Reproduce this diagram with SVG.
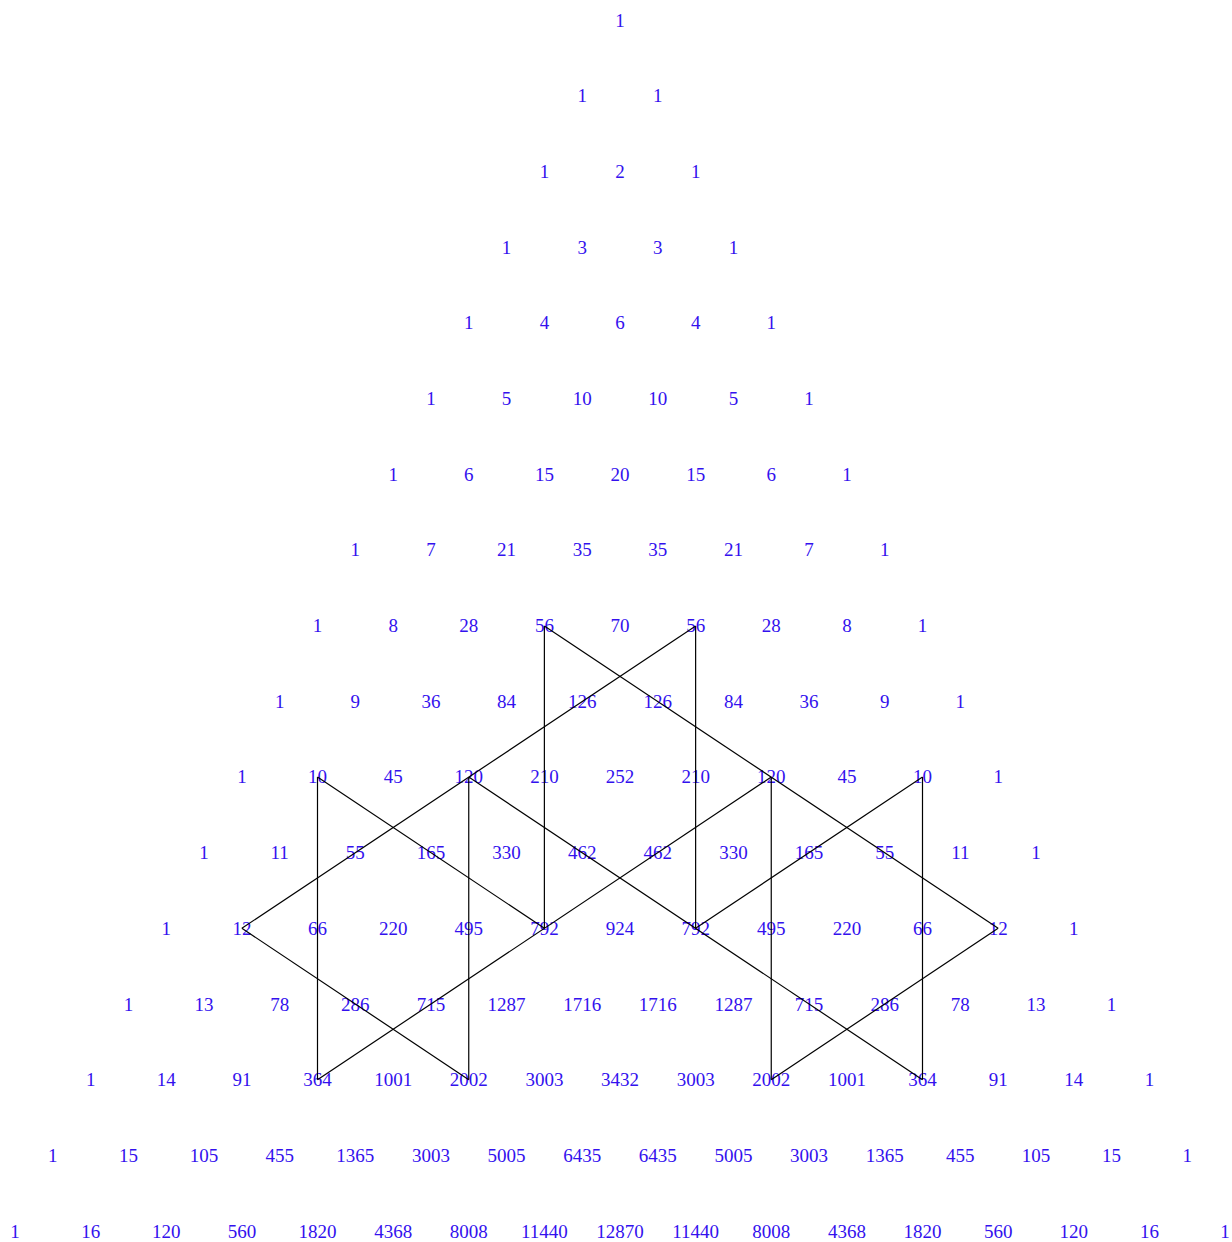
<svg xmlns="http://www.w3.org/2000/svg" width="1232" height="1242" viewBox="0 0 1232 1242">
<style>
text{font-family:"Liberation Serif","Times New Roman",serif;font-size:19px;fill:#3311ee;text-anchor:middle}
.c line{stroke:#000;stroke-width:1.2;fill:none}
</style>
<rect width="1232" height="1242" fill="#fff"/>
<g id="nodes">
<g id="r0"><g id="n0_0"><text x="620" y="26.5">1</text></g></g>
<g id="r1"><g id="n1_0"><text x="582.19" y="102.2">1</text></g><g id="n1_1"><text x="657.81" y="102.2">1</text></g></g>
<g id="r2"><g id="n2_0"><text x="544.38" y="177.9">1</text></g><g id="n2_1"><text x="620" y="177.9">2</text></g><g id="n2_2"><text x="695.63" y="177.9">1</text></g></g>
<g id="r3"><g id="n3_0"><text x="506.56" y="253.6">1</text></g><g id="n3_1"><text x="582.19" y="253.6">3</text></g><g id="n3_2"><text x="657.81" y="253.6">3</text></g><g id="n3_3"><text x="733.44" y="253.6">1</text></g></g>
<g id="r4"><g id="n4_0"><text x="468.75" y="329.3">1</text></g><g id="n4_1"><text x="544.38" y="329.3">4</text></g><g id="n4_2"><text x="620" y="329.3">6</text></g><g id="n4_3"><text x="695.63" y="329.3">4</text></g><g id="n4_4"><text x="771.25" y="329.3">1</text></g></g>
<g id="r5"><g id="n5_0"><text x="430.94" y="405">1</text></g><g id="n5_1"><text x="506.56" y="405">5</text></g><g id="n5_2"><text x="582.19" y="405">10</text></g><g id="n5_3"><text x="657.81" y="405">10</text></g><g id="n5_4"><text x="733.44" y="405">5</text></g><g id="n5_5"><text x="809.06" y="405">1</text></g></g>
<g id="r6"><g id="n6_0"><text x="393.13" y="480.6">1</text></g><g id="n6_1"><text x="468.75" y="480.6">6</text></g><g id="n6_2"><text x="544.38" y="480.6">15</text></g><g id="n6_3"><text x="620" y="480.6">20</text></g><g id="n6_4"><text x="695.63" y="480.6">15</text></g><g id="n6_5"><text x="771.25" y="480.6">6</text></g><g id="n6_6"><text x="846.88" y="480.6">1</text></g></g>
<g id="r7"><g id="n7_0"><text x="355.31" y="556.3">1</text></g><g id="n7_1"><text x="430.94" y="556.3">7</text></g><g id="n7_2"><text x="506.56" y="556.3">21</text></g><g id="n7_3"><text x="582.19" y="556.3">35</text></g><g id="n7_4"><text x="657.81" y="556.3">35</text></g><g id="n7_5"><text x="733.44" y="556.3">21</text></g><g id="n7_6"><text x="809.06" y="556.3">7</text></g><g id="n7_7"><text x="884.69" y="556.3">1</text></g></g>
<g id="r8"><g id="n8_0"><text x="317.5" y="632">1</text></g><g id="n8_1"><text x="393.13" y="632">8</text></g><g id="n8_2"><text x="468.75" y="632">28</text></g><g id="n8_3"><text x="544.38" y="632">56</text></g><g id="n8_4"><text x="620" y="632">70</text></g><g id="n8_5"><text x="695.63" y="632">56</text></g><g id="n8_6"><text x="771.25" y="632">28</text></g><g id="n8_7"><text x="846.88" y="632">8</text></g><g id="n8_8"><text x="922.5" y="632">1</text></g></g>
<g id="r9"><g id="n9_0"><text x="279.69" y="707.7">1</text></g><g id="n9_1"><text x="355.31" y="707.7">9</text></g><g id="n9_2"><text x="430.94" y="707.7">36</text></g><g id="n9_3"><text x="506.56" y="707.7">84</text></g><g id="n9_4"><text x="582.19" y="707.7">126</text></g><g id="n9_5"><text x="657.81" y="707.7">126</text></g><g id="n9_6"><text x="733.44" y="707.7">84</text></g><g id="n9_7"><text x="809.06" y="707.7">36</text></g><g id="n9_8"><text x="884.69" y="707.7">9</text></g><g id="n9_9"><text x="960.31" y="707.7">1</text></g></g>
<g id="r10"><g id="n10_0"><text x="241.88" y="783.4">1</text></g><g id="n10_1"><text x="317.5" y="783.4">10</text></g><g id="n10_2"><text x="393.13" y="783.4">45</text></g><g id="n10_3"><text x="468.75" y="783.4">120</text></g><g id="n10_4"><text x="544.38" y="783.4">210</text></g><g id="n10_5"><text x="620" y="783.4">252</text></g><g id="n10_6"><text x="695.63" y="783.4">210</text></g><g id="n10_7"><text x="771.25" y="783.4">120</text></g><g id="n10_8"><text x="846.88" y="783.4">45</text></g><g id="n10_9"><text x="922.5" y="783.4">10</text></g><g id="n10_10"><text x="998.13" y="783.4">1</text></g></g>
<g id="r11"><g id="n11_0"><text x="204.06" y="859.1">1</text></g><g id="n11_1"><text x="279.69" y="859.1">11</text></g><g id="n11_2"><text x="355.31" y="859.1">55</text></g><g id="n11_3"><text x="430.94" y="859.1">165</text></g><g id="n11_4"><text x="506.56" y="859.1">330</text></g><g id="n11_5"><text x="582.19" y="859.1">462</text></g><g id="n11_6"><text x="657.81" y="859.1">462</text></g><g id="n11_7"><text x="733.44" y="859.1">330</text></g><g id="n11_8"><text x="809.06" y="859.1">165</text></g><g id="n11_9"><text x="884.69" y="859.1">55</text></g><g id="n11_10"><text x="960.31" y="859.1">11</text></g><g id="n11_11"><text x="1035.94" y="859.1">1</text></g></g>
<g id="r12"><g id="n12_0"><text x="166.25" y="934.8">1</text></g><g id="n12_1"><text x="241.88" y="934.8">12</text></g><g id="n12_2"><text x="317.5" y="934.8">66</text></g><g id="n12_3"><text x="393.13" y="934.8">220</text></g><g id="n12_4"><text x="468.75" y="934.8">495</text></g><g id="n12_5"><text x="544.38" y="934.8">792</text></g><g id="n12_6"><text x="620" y="934.8">924</text></g><g id="n12_7"><text x="695.63" y="934.8">792</text></g><g id="n12_8"><text x="771.25" y="934.8">495</text></g><g id="n12_9"><text x="846.88" y="934.8">220</text></g><g id="n12_10"><text x="922.5" y="934.8">66</text></g><g id="n12_11"><text x="998.13" y="934.8">12</text></g><g id="n12_12"><text x="1073.75" y="934.8">1</text></g></g>
<g id="r13"><g id="n13_0"><text x="128.44" y="1010.5">1</text></g><g id="n13_1"><text x="204.06" y="1010.5">13</text></g><g id="n13_2"><text x="279.69" y="1010.5">78</text></g><g id="n13_3"><text x="355.31" y="1010.5">286</text></g><g id="n13_4"><text x="430.94" y="1010.5">715</text></g><g id="n13_5"><text x="506.56" y="1010.5">1287</text></g><g id="n13_6"><text x="582.19" y="1010.5">1716</text></g><g id="n13_7"><text x="657.81" y="1010.5">1716</text></g><g id="n13_8"><text x="733.44" y="1010.5">1287</text></g><g id="n13_9"><text x="809.06" y="1010.5">715</text></g><g id="n13_10"><text x="884.69" y="1010.5">286</text></g><g id="n13_11"><text x="960.31" y="1010.5">78</text></g><g id="n13_12"><text x="1035.94" y="1010.5">13</text></g><g id="n13_13"><text x="1111.56" y="1010.5">1</text></g></g>
<g id="r14"><g id="n14_0"><text x="90.63" y="1086.2">1</text></g><g id="n14_1"><text x="166.25" y="1086.2">14</text></g><g id="n14_2"><text x="241.88" y="1086.2">91</text></g><g id="n14_3"><text x="317.5" y="1086.2">364</text></g><g id="n14_4"><text x="393.13" y="1086.2">1001</text></g><g id="n14_5"><text x="468.75" y="1086.2">2002</text></g><g id="n14_6"><text x="544.38" y="1086.2">3003</text></g><g id="n14_7"><text x="620" y="1086.2">3432</text></g><g id="n14_8"><text x="695.63" y="1086.2">3003</text></g><g id="n14_9"><text x="771.25" y="1086.2">2002</text></g><g id="n14_10"><text x="846.88" y="1086.2">1001</text></g><g id="n14_11"><text x="922.5" y="1086.2">364</text></g><g id="n14_12"><text x="998.13" y="1086.2">91</text></g><g id="n14_13"><text x="1073.75" y="1086.2">14</text></g><g id="n14_14"><text x="1149.38" y="1086.2">1</text></g></g>
<g id="r15"><g id="n15_0"><text x="52.81" y="1161.9">1</text></g><g id="n15_1"><text x="128.44" y="1161.9">15</text></g><g id="n15_2"><text x="204.06" y="1161.9">105</text></g><g id="n15_3"><text x="279.69" y="1161.9">455</text></g><g id="n15_4"><text x="355.31" y="1161.9">1365</text></g><g id="n15_5"><text x="430.94" y="1161.9">3003</text></g><g id="n15_6"><text x="506.56" y="1161.9">5005</text></g><g id="n15_7"><text x="582.19" y="1161.9">6435</text></g><g id="n15_8"><text x="657.81" y="1161.9">6435</text></g><g id="n15_9"><text x="733.44" y="1161.9">5005</text></g><g id="n15_10"><text x="809.06" y="1161.9">3003</text></g><g id="n15_11"><text x="884.69" y="1161.9">1365</text></g><g id="n15_12"><text x="960.31" y="1161.9">455</text></g><g id="n15_13"><text x="1035.94" y="1161.9">105</text></g><g id="n15_14"><text x="1111.56" y="1161.9">15</text></g><g id="n15_15"><text x="1187.19" y="1161.9">1</text></g></g>
<g id="r16"><g id="n16_0"><text x="15" y="1237.5">1</text></g><g id="n16_1"><text x="90.63" y="1237.5">16</text></g><g id="n16_2"><text x="166.25" y="1237.5">120</text></g><g id="n16_3"><text x="241.88" y="1237.5">560</text></g><g id="n16_4"><text x="317.5" y="1237.5">1820</text></g><g id="n16_5"><text x="393.13" y="1237.5">4368</text></g><g id="n16_6"><text x="468.75" y="1237.5">8008</text></g><g id="n16_7"><text x="544.38" y="1237.5">11440</text></g><g id="n16_8"><text x="620" y="1237.5">12870</text></g><g id="n16_9"><text x="695.63" y="1237.5">11440</text></g><g id="n16_10"><text x="771.25" y="1237.5">8008</text></g><g id="n16_11"><text x="846.88" y="1237.5">4368</text></g><g id="n16_12"><text x="922.5" y="1237.5">1820</text></g><g id="n16_13"><text x="998.13" y="1237.5">560</text></g><g id="n16_14"><text x="1073.75" y="1237.5">120</text></g><g id="n16_15"><text x="1149.38" y="1237.5">16</text></g><g id="n16_16"><text x="1225" y="1237.5">1</text></g></g>
</g>
<g id="connectors" class="c">
<line x1="544.38" y1="626" x2="544.38" y2="928.3"/>
<line x1="695.63" y1="626" x2="695.63" y2="928.3"/>
<line x1="544.38" y1="626" x2="998.13" y2="928.3"/>
<line x1="695.63" y1="626" x2="241.88" y2="928.3"/>
<line x1="317.5" y1="777" x2="317.5" y2="1079.7"/>
<line x1="468.75" y1="777" x2="468.75" y2="1079.7"/>
<line x1="317.5" y1="777" x2="544.38" y2="928.3"/>
<line x1="241.88" y1="928.3" x2="468.75" y2="1079.7"/>
<line x1="468.75" y1="777" x2="922.5" y2="1079.7"/>
<line x1="771.25" y1="777" x2="317.5" y2="1079.7"/>
<line x1="922.5" y1="777" x2="922.5" y2="1079.7"/>
<line x1="771.25" y1="777" x2="771.25" y2="1079.7"/>
<line x1="922.5" y1="777" x2="695.63" y2="928.3"/>
<line x1="998.13" y1="928.3" x2="771.25" y2="1079.7"/>
</g>
</svg>
